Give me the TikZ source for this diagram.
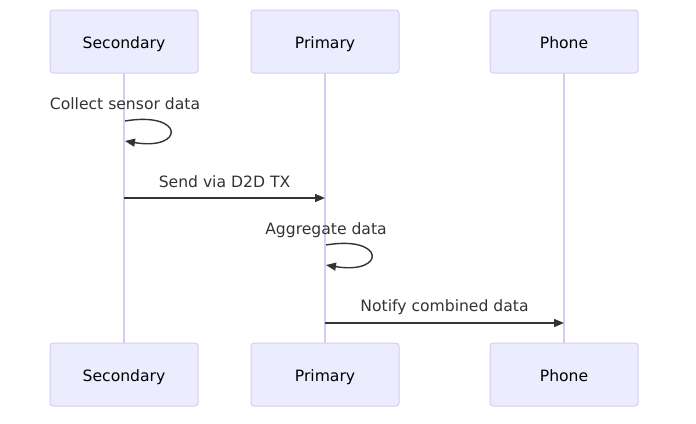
\documentclass[tikz,border=0pt]{standalone}
\usepackage{fontspec}
\setmainfont{DejaVu Sans}
\usetikzlibrary{arrows.meta}
\definecolor{actfill}{HTML}{ECECFF}
\definecolor{actdraw}{HTML}{D6CCF4}
\definecolor{msg}{HTML}{333333}
\begin{document}
\begin{tikzpicture}[x=1pt,y=-1pt,
  actor/.style={draw=actdraw,fill=actfill,line width=1pt,rounded corners=3pt,minimum width=148pt,minimum height=63pt,inner sep=0pt,text height=16pt,text depth=3pt,font=\fontsize{15.6}{18}\selectfont,text=black},
  life/.style={draw=actdraw,line width=1.5pt},
  msgline/.style={draw=msg,line width=1.4pt,-{Triangle[length=10pt,width=8pt]}},
  lbl/.style={font=\fontsize{15.6}{18}\selectfont,text=msg,inner sep=0pt,text height=16pt,text depth=3pt}]
\useasboundingbox (0,0) rectangle (696,423);
\path[life] (124,73) -- (124,343);
\path[life] (325,73) -- (325,343);
\path[life] (564,73) -- (564,343);
\node[actor] (s1) at (124,41.5) {Secondary};
\node[actor] (p1) at (325,41.5) {Primary};
\node[actor] (f1) at (564,41.5) {Phone};
\node[actor] (s2) at (124,374.5) {Secondary};
\node[actor] (p2) at (325,374.5) {Primary};
\node[actor] (f2) at (564,374.5) {Phone};
\coordinate (a1) at (125,121);
\coordinate (a2) at (125,141);
\path[msgline] (a1) .. controls (185,111) and (185,151) .. (a2);
\node[lbl] (l1) at (125,103) {Collect sensor data};
\coordinate (b1) at (124,198);
\coordinate (b2) at (325,198);
\path[msgline] (b1) -- (b2);
\node[lbl] (l2) at (224.5,181) {Send via D2D TX};
\coordinate (c1) at (326,245);
\coordinate (c2) at (326,265);
\path[msgline] (c1) .. controls (386,235) and (386,275) .. (c2);
\node[lbl] (l3) at (326,228) {Aggregate data};
\coordinate (d1) at (325,323);
\coordinate (d2) at (564,323);
\path[msgline] (d1) -- (d2);
\node[lbl] (l4) at (444.5,305) {Notify combined data};
\end{tikzpicture}
\end{document}
